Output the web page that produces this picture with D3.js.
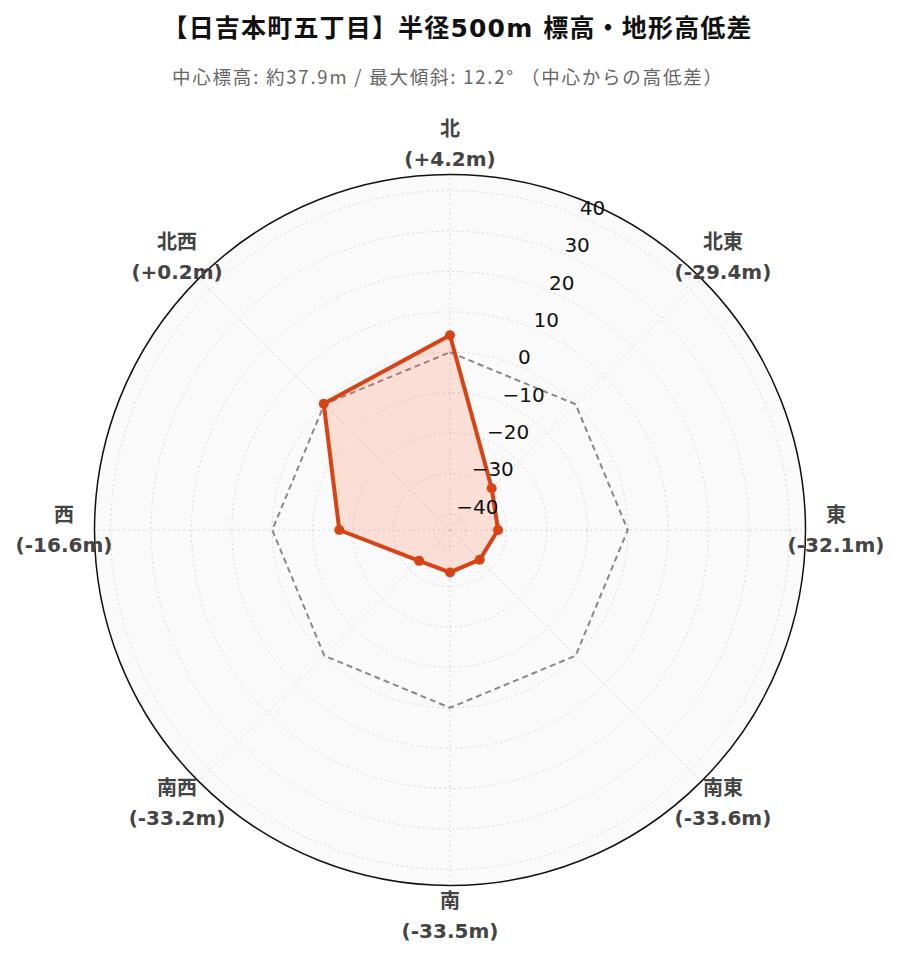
<!DOCTYPE html>
<html>
<head>
<meta charset="utf-8">
<script src="https://d3js.org/d3.v7.min.js"></script>
<style>
  body { margin: 0; background: #fff; }
  #chart { display: block; }
</style>
</head>
<body>
<svg id="chart"></svg>
<script>
const directions = ["北", "北東", "東", "南東", "南", "南西", "西", "北西"];
const diffs = [4.2, -29.4, -32.1, -33.6, -33.5, -33.2, -16.6, 0.2];
const radialTicks = [-40, -30, -20, -10, 0, 10, 20, 30, 40];
const titleText = "【日吉本町五丁目】半径500m 標高・地形高低差";
const subtitleText = "中心標高: 約37.9m / 最大傾斜: 12.2° （中心からの高低差）";

const width = 899, height = 962;
const cx = 450, cy = 530, outerR = 355.5;
const cjk = "'Noto Sans CJK JP', 'Noto Sans', sans-serif";
const mixed = "'DejaVu Sans', 'Noto Sans CJK JP', sans-serif";

const svg = d3.select("#chart").attr("width", width).attr("height", height);

const r = d3.scaleLinear().domain([-44, 44]).range([0, outerR]);
const ang = d3.scaleLinear().domain([0, directions.length]).range([0, 2 * Math.PI]);
const pt = (i, v) => [Math.sin(ang(i)) * r(v), -Math.cos(ang(i)) * r(v)];

const g = svg.append("g").attr("transform", `translate(${cx},${cy})`);

// 背景
g.append("circle").attr("r", outerR).attr("fill", "#fafafa");

// 同心円グリッド
g.selectAll("circle.grid")
  .data(radialTicks)
  .join("circle")
  .attr("class", "grid")
  .attr("r", d => r(d))
  .attr("fill", "none")
  .attr("stroke", "#d6d6d6")
  .attr("stroke-width", 1)
  .attr("stroke-dasharray", "2,3");

// 放射グリッド
g.selectAll("line.spoke")
  .data(directions)
  .join("line")
  .attr("class", "spoke")
  .attr("x1", 0).attr("y1", 0)
  .attr("x2", (d, i) => pt(i, 44)[0])
  .attr("y2", (d, i) => pt(i, 44)[1])
  .attr("stroke", "#d6d6d6")
  .attr("stroke-width", 1)
  .attr("stroke-dasharray", "2,3");

// 外周
g.append("circle").attr("r", outerR)
  .attr("fill", "none").attr("stroke", "#111").attr("stroke-width", 1.5);

// 0m 基準線
const closed = d3.line().curve(d3.curveLinearClosed);
g.append("path")
  .attr("d", closed(directions.map((d, i) => pt(i, 0))))
  .attr("fill", "none")
  .attr("stroke", "#888")
  .attr("stroke-width", 2)
  .attr("stroke-dasharray", "6,4");

// データ
const dataPts = diffs.map((v, i) => pt(i, v));
g.append("path")
  .attr("d", closed(dataPts))
  .attr("fill", "rgba(255,112,67,0.2)")
  .attr("stroke", "#d84315")
  .attr("stroke-width", 4)
  .attr("stroke-linejoin", "round");

g.selectAll("circle.pt")
  .data(diffs)
  .join("circle")
  .attr("class", "pt")
  .attr("cx", (d, i) => pt(i, d)[0])
  .attr("cy", (d, i) => pt(i, d)[1])
  .attr("r", 5)
  .attr("fill", "#d84315");

// 半径軸ラベル (22.5°)
const axisAng = Math.PI / 8;
g.selectAll("text.rtick")
  .data(radialTicks)
  .join("text")
  .attr("class", "rtick")
  .attr("x", d => Math.sin(axisAng) * r(d))
  .attr("y", d => -Math.cos(axisAng) * r(d) - 8.5)
  .attr("dy", "0.35em")
  .attr("text-anchor", "start")
  .attr("font-family", "'DejaVu Sans', sans-serif")
  .attr("font-size", 20)
  .attr("fill", "#111")
  .text(d => d < 0 ? "\u2212" + Math.abs(d) : d);

// 方位ラベル
const fmt = v => (v >= 0 ? "+" : "-") + Math.abs(v).toFixed(1) + "m";
const lab = g.selectAll("g.alabel")
  .data(directions)
  .join("g")
  .attr("class", "alabel")
  .attr("transform", (d, i) => {
    const a = ang(i), rr = 386;
    return `translate(${Math.sin(a) * rr},${-Math.cos(a) * rr})`;
  })
  .attr("font-family", mixed)
  .attr("font-weight", "bold")
  .attr("font-size", 20)
  .attr("fill", "#444")
  .attr("text-anchor", "middle");

lab.append("text").attr("y", -15).attr("dy", "0.35em").text(d => d);
lab.append("text").attr("y", 15).attr("dy", "0.35em").text((d, i) => "(" + fmt(diffs[i]) + ")");

// タイトル
svg.append("text")
  .attr("x", 457).attr("y", 28.5)
  .attr("dy", "0.35em")
  .attr("text-anchor", "middle")
  .attr("font-family", mixed)
  .attr("font-weight", "bold")
  .attr("font-size", 25)
  .attr("textLength", 589)
  .attr("lengthAdjust", "spacing")
  .attr("fill", "#111")
  .text(titleText);

svg.append("text")
  .attr("x", 447).attr("y", 78)
  .attr("dy", "0.35em")
  .attr("text-anchor", "middle")
  .attr("font-family", cjk)
  .attr("font-size", 18.5)
  .attr("textLength", 550)
  .attr("lengthAdjust", "spacing")
  .attr("fill", "#666")
  .text(subtitleText);
</script>
</body>
</html>
